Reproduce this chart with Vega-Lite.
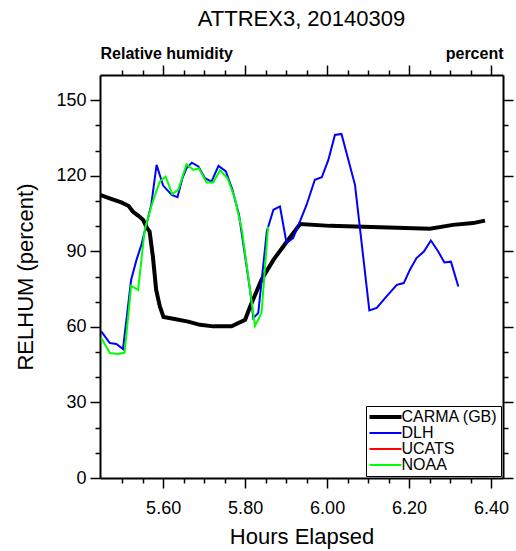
{
  "$schema": "https://vega.github.io/schema/vega-lite/v6.json",
  "autosize": {"type": "none"},
  "padding": {"left": 100, "top": 75, "right": 13, "bottom": 73},
  "width": 403,
  "height": 403,
  "background": "white",
  "title": {"text": "ATTREX3, 20140309", "font": "Liberation Sans", "fontSize": 22, "fontWeight": "normal", "color": "black", "anchor": "middle", "offset": 14},
  "config": {
    "view": {"stroke": null},
    "axis": {"grid": false, "labelFont": "Liberation Sans", "titleFont": "Liberation Sans", "labelColor": "black", "titleColor": "black", "tickColor": "black", "domainColor": "black", "tickWidth": 1.5, "domainWidth": 2, "titleFontWeight": "normal"},
    "legend": {"orient": "bottom-right", "offset": 2, "strokeColor": "black", "fillColor": "white", "padding": 3, "labelFont": "Liberation Sans", "labelFontSize": 16, "labelColor": "black", "symbolType": "M-2.91,0H2.91", "symbolSize": 121, "symbolOffset": 8.5, "rowPadding": 0, "labelOffset": 8}
  },
  "data": {"values": [
    {"series": "CARMA (GB)", "t": 5.446, "rh": 112.4},
    {"series": "CARMA (GB)", "t": 5.473, "rh": 110.8},
    {"series": "CARMA (GB)", "t": 5.498, "rh": 109.4},
    {"series": "CARMA (GB)", "t": 5.516, "rh": 108.0},
    {"series": "CARMA (GB)", "t": 5.526, "rh": 105.8},
    {"series": "CARMA (GB)", "t": 5.539, "rh": 104.2},
    {"series": "CARMA (GB)", "t": 5.551, "rh": 102.5},
    {"series": "CARMA (GB)", "t": 5.561, "rh": 99.2},
    {"series": "CARMA (GB)", "t": 5.567, "rh": 97.9},
    {"series": "CARMA (GB)", "t": 5.575, "rh": 87.9},
    {"series": "CARMA (GB)", "t": 5.583, "rh": 74.7},
    {"series": "CARMA (GB)", "t": 5.592, "rh": 68.1},
    {"series": "CARMA (GB)", "t": 5.601, "rh": 63.9},
    {"series": "CARMA (GB)", "t": 5.628, "rh": 63.1},
    {"series": "CARMA (GB)", "t": 5.661, "rh": 62.1},
    {"series": "CARMA (GB)", "t": 5.690, "rh": 60.8},
    {"series": "CARMA (GB)", "t": 5.722, "rh": 60.2},
    {"series": "CARMA (GB)", "t": 5.767, "rh": 60.2},
    {"series": "CARMA (GB)", "t": 5.800, "rh": 62.8},
    {"series": "CARMA (GB)", "t": 5.812, "rh": 68.0},
    {"series": "CARMA (GB)", "t": 5.840, "rh": 78.7},
    {"series": "CARMA (GB)", "t": 5.869, "rh": 86.6},
    {"series": "CARMA (GB)", "t": 5.902, "rh": 93.9},
    {"series": "CARMA (GB)", "t": 5.934, "rh": 100.8},
    {"series": "CARMA (GB)", "t": 6.007, "rh": 100.1},
    {"series": "CARMA (GB)", "t": 6.129, "rh": 99.6},
    {"series": "CARMA (GB)", "t": 6.251, "rh": 99.0},
    {"series": "CARMA (GB)", "t": 6.307, "rh": 100.5},
    {"series": "CARMA (GB)", "t": 6.356, "rh": 101.2},
    {"series": "CARMA (GB)", "t": 6.385, "rh": 102.2},
    {"series": "DLH", "t": 5.449, "rh": 58.2},
    {"series": "DLH", "t": 5.470, "rh": 53.6},
    {"series": "DLH", "t": 5.486, "rh": 53.2},
    {"series": "DLH", "t": 5.502, "rh": 51.2},
    {"series": "DLH", "t": 5.522, "rh": 78.7},
    {"series": "DLH", "t": 5.535, "rh": 86.6},
    {"series": "DLH", "t": 5.547, "rh": 92.6},
    {"series": "DLH", "t": 5.559, "rh": 100.5},
    {"series": "DLH", "t": 5.571, "rh": 108.5},
    {"series": "DLH", "t": 5.584, "rh": 124.3},
    {"series": "DLH", "t": 5.600, "rh": 116.1},
    {"series": "DLH", "t": 5.621, "rh": 112.4},
    {"series": "DLH", "t": 5.635, "rh": 111.5},
    {"series": "DLH", "t": 5.647, "rh": 119.0},
    {"series": "DLH", "t": 5.657, "rh": 123.0},
    {"series": "DLH", "t": 5.670, "rh": 125.2},
    {"series": "DLH", "t": 5.686, "rh": 123.7},
    {"series": "DLH", "t": 5.702, "rh": 119.0},
    {"series": "DLH", "t": 5.718, "rh": 117.7},
    {"series": "DLH", "t": 5.735, "rh": 123.9},
    {"series": "DLH", "t": 5.753, "rh": 121.7},
    {"series": "DLH", "t": 5.769, "rh": 114.4},
    {"series": "DLH", "t": 5.785, "rh": 104.5},
    {"series": "DLH", "t": 5.812, "rh": 74.7},
    {"series": "DLH", "t": 5.820, "rh": 63.5},
    {"series": "DLH", "t": 5.832, "rh": 65.5},
    {"series": "DLH", "t": 5.853, "rh": 98.0},
    {"series": "DLH", "t": 5.869, "rh": 106.5},
    {"series": "DLH", "t": 5.885, "rh": 107.8},
    {"series": "DLH", "t": 5.901, "rh": 93.3},
    {"series": "DLH", "t": 5.917, "rh": 95.2},
    {"series": "DLH", "t": 5.934, "rh": 102.0},
    {"series": "DLH", "t": 5.950, "rh": 108.5},
    {"series": "DLH", "t": 5.970, "rh": 118.4},
    {"series": "DLH", "t": 5.987, "rh": 119.4},
    {"series": "DLH", "t": 6.003, "rh": 126.3},
    {"series": "DLH", "t": 6.019, "rh": 136.2},
    {"series": "DLH", "t": 6.035, "rh": 136.6},
    {"series": "DLH", "t": 6.068, "rh": 116.4},
    {"series": "DLH", "t": 6.103, "rh": 66.5},
    {"series": "DLH", "t": 6.121, "rh": 67.5},
    {"series": "DLH", "t": 6.145, "rh": 72.1},
    {"series": "DLH", "t": 6.170, "rh": 76.7},
    {"series": "DLH", "t": 6.187, "rh": 77.4},
    {"series": "DLH", "t": 6.202, "rh": 82.7},
    {"series": "DLH", "t": 6.218, "rh": 87.3},
    {"series": "DLH", "t": 6.236, "rh": 89.9},
    {"series": "DLH", "t": 6.253, "rh": 94.3},
    {"series": "DLH", "t": 6.271, "rh": 89.9},
    {"series": "DLH", "t": 6.286, "rh": 85.6},
    {"series": "DLH", "t": 6.302, "rh": 85.9},
    {"series": "DLH", "t": 6.320, "rh": 76.0},
    {"series": "NOAA", "t": 5.449, "rh": 55.6},
    {"series": "NOAA", "t": 5.470, "rh": 49.6},
    {"series": "NOAA", "t": 5.490, "rh": 49.2},
    {"series": "NOAA", "t": 5.506, "rh": 49.8},
    {"series": "NOAA", "t": 5.522, "rh": 76.3},
    {"series": "NOAA", "t": 5.539, "rh": 74.7},
    {"series": "NOAA", "t": 5.555, "rh": 98.5},
    {"series": "NOAA", "t": 5.571, "rh": 107.8},
    {"series": "NOAA", "t": 5.583, "rh": 113.7},
    {"series": "NOAA", "t": 5.592, "rh": 117.7},
    {"series": "NOAA", "t": 5.606, "rh": 119.7},
    {"series": "NOAA", "t": 5.622, "rh": 112.8},
    {"series": "NOAA", "t": 5.637, "rh": 114.4},
    {"series": "NOAA", "t": 5.657, "rh": 124.6},
    {"series": "NOAA", "t": 5.674, "rh": 122.3},
    {"series": "NOAA", "t": 5.687, "rh": 123.0},
    {"series": "NOAA", "t": 5.706, "rh": 117.3},
    {"series": "NOAA", "t": 5.722, "rh": 117.3},
    {"series": "NOAA", "t": 5.739, "rh": 122.2},
    {"series": "NOAA", "t": 5.757, "rh": 119.0},
    {"series": "NOAA", "t": 5.775, "rh": 111.1},
    {"series": "NOAA", "t": 5.792, "rh": 98.5},
    {"series": "NOAA", "t": 5.824, "rh": 60.4},
    {"series": "NOAA", "t": 5.840, "rh": 65.5},
    {"series": "NOAA", "t": 5.856, "rh": 99.8}
  ]},
  "resolve": {"axis": {"x": "independent", "y": "independent"}},
  "layer": [
    {
      "mark": {"type": "line", "clip": true},
      "encoding": {
        "x": {"field": "t", "type": "quantitative", "scale": {"domain": [5.446, 6.429], "nice": false, "zero": false},
              "axis": {"orient": "bottom", "values": [5.6, 5.8, 6.0, 6.2, 6.4], "format": ".2f", "tickSize": 10, "labelFontSize": 18, "labelPadding": 11, "title": "Hours Elapsed", "titleFontSize": 22, "titlePadding": 9}},
        "y": {"field": "rh", "type": "quantitative", "scale": {"domain": [0, 160], "nice": false},
              "axis": {"orient": "left", "values": [0, 30, 60, 90, 120, 150], "tickSize": 10, "labelFontSize": 18, "labelPadding": 4, "title": "RELHUM (percent)", "titleFontSize": 22, "titlePadding": 18}},
        "color": {"field": "series", "type": "nominal", "scale": {"domain": ["CARMA (GB)", "DLH", "UCATS", "NOAA"], "range": ["#000000", "#0000ff", "#ff0000", "#00ff00"]}, "legend": {"title": null}},
        "strokeWidth": {"field": "series", "type": "nominal", "scale": {"type": "ordinal", "domain": ["CARMA (GB)", "DLH", "UCATS", "NOAA"], "range": [4, 2, 2, 2]}, "legend": {"title": null}},
        "order": {"field": "t", "type": "quantitative"}
      }
    },
    {
      "mark": {"type": "point", "opacity": 0},
      "encoding": {
        "x": {"field": "t", "type": "quantitative", "scale": {"domain": [5.446, 6.429], "nice": false, "zero": false},
              "axis": {"orient": "bottom", "values": [5.5, 5.55, 5.65, 5.7, 5.75, 5.85, 5.9, 5.95, 6.05, 6.1, 6.15, 6.25, 6.3, 6.35], "tickSize": 5, "labels": false, "domain": false, "title": null}},
        "y": {"field": "rh", "type": "quantitative", "scale": {"domain": [0, 160], "nice": false},
              "axis": {"orient": "left", "values": [10, 20, 40, 50, 70, 80, 100, 110, 130, 140], "tickSize": 5, "labels": false, "domain": false, "title": null}}
      }
    },
    {
      "mark": {"type": "point", "opacity": 0},
      "encoding": {
        "x": {"field": "t", "type": "quantitative", "scale": {"domain": [5.446, 6.429], "nice": false, "zero": false},
              "axis": {"orient": "top", "values": [5.6, 5.8, 6.0, 6.2, 6.4], "tickSize": 10, "labels": false, "title": "Relative humidity", "titleFontSize": 16, "titleFontWeight": "bold", "titleAnchor": "start", "titleAlign": "left", "titleBaseline": "alphabetic", "titleY": -17, "titleX": 0}},
        "y": {"field": "rh", "type": "quantitative", "scale": {"domain": [0, 160], "nice": false},
              "axis": {"orient": "right", "values": [0, 30, 60, 90, 120, 150], "tickSize": 10, "labels": false, "title": null}}
      }
    },
    {
      "mark": {"type": "point", "opacity": 0},
      "encoding": {
        "x": {"field": "t", "type": "quantitative", "scale": {"domain": [5.446, 6.429], "nice": false, "zero": false},
              "axis": {"orient": "top", "values": [5.5, 5.55, 5.65, 5.7, 5.75, 5.85, 5.9, 5.95, 6.05, 6.1, 6.15, 6.25, 6.3, 6.35], "tickSize": 5, "labels": false, "domain": false, "title": "percent", "titleFontSize": 16, "titleFontWeight": "bold", "titleAnchor": "end", "titleAlign": "right", "titleBaseline": "alphabetic", "titleY": -17, "titleX": 403}},
        "y": {"field": "rh", "type": "quantitative", "scale": {"domain": [0, 160], "nice": false},
              "axis": {"orient": "right", "values": [10, 20, 40, 50, 70, 80, 100, 110, 130, 140], "tickSize": 5, "labels": false, "domain": false, "title": null}}
      }
    }
  ]
}
